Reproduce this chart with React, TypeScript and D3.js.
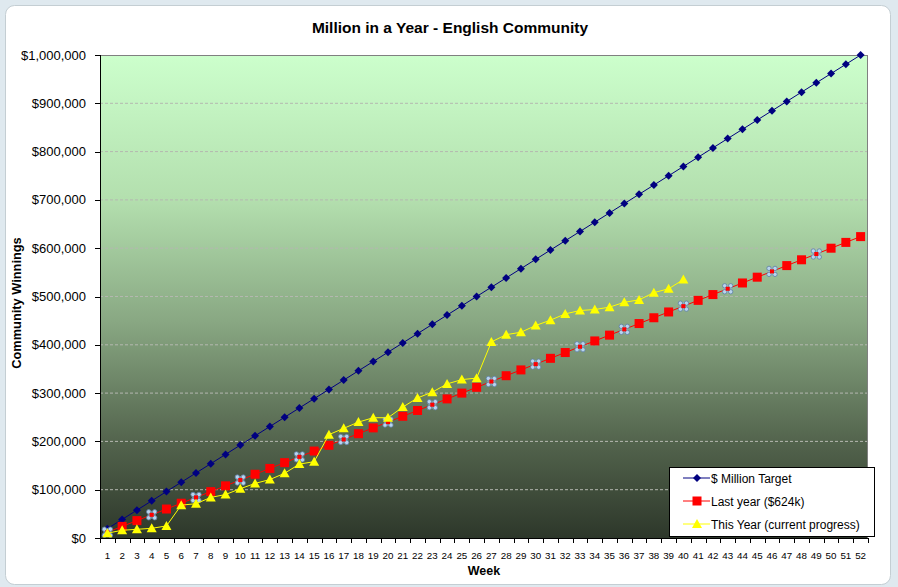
import React from "react";
import * as d3 from "d3";

const weeks = [
  1, 2, 3, 4, 5, 6, 7, 8, 9, 10, 11, 12, 13, 14, 15, 16, 17, 18, 19, 20, 21, 22, 23, 24, 25, 26,
  27, 28, 29, 30, 31, 32, 33, 34, 35, 36, 37, 38, 39, 40, 41, 42, 43, 44, 45, 46, 47, 48, 49, 50, 51, 52,
];

const target = [
  19231, 38462, 57692, 76923, 96154, 115385, 134615, 153846, 173077, 192308, 211538, 230769, 250000,
  269231, 288462, 307692, 326923, 346154, 365385, 384615, 403846, 423077, 442308, 461538, 480769, 500000,
  519231, 538462, 557692, 576923, 596154, 615385, 634615, 653846, 673077, 692308, 711538, 730769, 750000,
  769231, 788462, 807692, 826923, 846154, 865385, 884615, 903846, 923077, 942308, 961538, 980769, 1000000,
];

const lastYear = [
  12000, 24000, 36000, 48000, 60000, 72000, 84000, 96000, 108000, 120000, 132000, 144000, 156000,
  168000, 180000, 192000, 204000, 216000, 228000, 240000, 252000, 264000, 276000, 288000, 300000, 312000,
  324000, 336000, 348000, 360000, 372000, 384000, 396000, 408000, 420000, 432000, 444000, 456000, 468000,
  480000, 492000, 504000, 516000, 528000, 540000, 552000, 564000, 576000, 588000, 600000, 612000, 624000,
];

const thisYear = [
  10000, 16000, 18000, 20000, 25000, 68000, 71000, 84000, 90000, 102000, 113000, 121000, 134000,
  153000, 158000, 214000, 227000, 240000, 249000, 249000, 271000, 290000, 302000, 319000, 328000, 331000,
  406000, 421000, 426000, 440000, 451000, 464000, 471000, 473000, 478000, 488000, 493000, 508000, 516000,
  535000,
];

const highlightedWeeks = [1, 4, 7, 10, 14, 17, 20, 23, 27, 30, 33, 36, 40, 43, 46, 49];

const yTicks = [0, 100000, 200000, 300000, 400000, 500000, 600000, 700000, 800000, 900000, 1000000];

const seriesNames = ["$ Million Target", "Last year ($624k)", "This Year (current progress)"];

const W = 898;
const H = 587;
const left = 100;
const right = 868;
const top = 55;
const bottom = 538;
const FONT = "'Liberation Sans', Arial, sans-serif";

export default function App() {
  const x = d3
    .scaleBand<number>()
    .domain(weeks)
    .range([left, right])
    .paddingInner(0)
    .paddingOuter(0);
  const bw = x.bandwidth();
  const cx = (w: number) => (x(w) as number) + bw / 2;
  const y = d3.scaleLinear().domain([0, 1000000]).range([bottom, top]);
  const fmt = d3.format("$,.0f");

  const line = d3
    .line<number>()
    .x((_, i) => cx(weeks[i]))
    .y((v) => y(v));

  const diamond = (px: number, py: number, r: number) =>
    `M${px},${py - r}L${px + r},${py}L${px},${py + r}L${px - r},${py}Z`;
  const tri = (px: number, py: number, r: number) =>
    `M${px},${py - r}L${px + r},${py + r * 0.8}L${px - r},${py + r * 0.8}Z`;

  const xTickPositions = [...weeks.map((w) => x(w) as number), right];

  const legendX = 669;
  const legendY = 467;
  const legendRows = [478, 501, 524];

  return (
    <svg
      width={W}
      height={H}
      style={{ position: "absolute", left: 0, top: 0, display: "block" }}
      fontFamily={FONT}
    >
      <defs>
        <linearGradient id="bg" x1="0" y1="0" x2="0" y2="1">
          <stop offset="0" stopColor="#ccffcc" />
          <stop offset="0.3" stopColor="#b3dfae" />
          <stop offset="0.55" stopColor="#89a883" />
          <stop offset="0.8" stopColor="#53644d" />
          <stop offset="1" stopColor="#2d372a" />
        </linearGradient>
      </defs>
      <rect x={0} y={0} width={W} height={H} fill="#dfe9ef" />
      <rect x={5.5} y={5.5} width={885} height={579} rx={9} fill="#ffffff" stroke="#c4ced3" />

      <text
        x={450}
        y={33}
        textAnchor="middle"
        fontSize={15.5}
        fontWeight="bold"
        fill="#000"
      >
        Million in a Year - English Community
      </text>

      <rect x={left} y={top} width={right - left} height={bottom - top} fill="url(#bg)" />

      {yTicks
        .filter((t) => t > 0 && t < 1000000)
        .map((t) => (
          <line
            key={"g" + t}
            x1={left}
            x2={right}
            y1={y(t)}
            y2={y(t)}
            stroke="#b4b8b0"
            strokeDasharray="3,2"
            strokeWidth={1}
          />
        ))}

      <line x1={left} x2={right} y1={top + 0.5} y2={top + 0.5} stroke="#808080" />
      <line x1={right - 0.5} x2={right - 0.5} y1={top} y2={bottom} stroke="#808080" />
      <line x1={left + 0.5} x2={left + 0.5} y1={top} y2={bottom} stroke="#000" />
      <line x1={left} x2={right} y1={bottom + 0.5} y2={bottom + 0.5} stroke="#000" />

      {yTicks.map((t) => (
        <g key={"y" + t}>
          <line x1={95} x2={left} y1={Math.round(y(t)) + 0.5} y2={Math.round(y(t)) + 0.5} stroke="#000" />
          <text x={86} y={y(t) + 4.5} textAnchor="end" fontSize={13} fill="#000">
            {fmt(t)}
          </text>
        </g>
      ))}

      {xTickPositions.map((p, i) => (
        <line
          key={"xt" + i}
          x1={Math.round(p) + 0.5}
          x2={Math.round(p) + 0.5}
          y1={bottom}
          y2={bottom + 5}
          stroke="#000"
        />
      ))}
      {weeks.map((w) => (
        <text key={"xl" + w} x={cx(w)} y={559} textAnchor="middle" fontSize={9.8} fill="#000">
          {w}
        </text>
      ))}

      <text x={484} y={575} textAnchor="middle" fontSize={12.5} fontWeight="bold" fill="#000">
        Week
      </text>
      <text
        transform={`translate(21,303) rotate(-90)`}
        textAnchor="middle"
        fontSize={12.8}
        fontWeight="bold"
        fill="#000"
      >
        Community Winnings
      </text>

      {/* Target series */}
      <path d={line(target) || ""} fill="none" stroke="#000080" strokeWidth={1} />
      {target.map((v, i) => (
        <path key={"t" + i} d={diamond(cx(weeks[i]), y(v), 4)} fill="#000080" />
      ))}

      {/* Last year series */}
      <path d={line(lastYear) || ""} fill="none" stroke="#ff0000" strokeWidth={1} />
      {lastYear.map((v, i) => {
        const w = weeks[i];
        const px = cx(w);
        const py = y(v);
        if (highlightedWeeks.includes(w)) {
          return (
            <g key={"l" + i}>
              <rect x={px - 4} y={py - 4} width={8} height={8} fill="#a9c3dc" opacity={0.6} />
              {[
                [-3, -3],
                [3, -3],
                [-3, 3],
                [3, 3],
              ].map(([dx, dy], k) => (
                <circle
                  key={k}
                  cx={px + dx}
                  cy={py + dy}
                  r={2.2}
                  fill="#b8d4ee"
                  stroke="#5d7fa3"
                  strokeWidth={0.8}
                />
              ))}
              <rect x={px - 2} y={py - 2} width={4} height={4} fill="#ff0000" />
            </g>
          );
        }
        return <rect key={"l" + i} x={px - 4.5} y={py - 4.5} width={9} height={9} fill="#ff0000" />;
      })}

      {/* This year series */}
      <path d={line(thisYear) || ""} fill="none" stroke="#ffff00" strokeWidth={1} />
      {thisYear.map((v, i) => (
        <path key={"y" + i} d={tri(cx(weeks[i]), y(v), 5)} fill="#ffff00" />
      ))}

      {/* Legend */}
      <rect
        x={legendX + 0.5}
        y={legendY + 0.5}
        width={205}
        height={69}
        fill="#ffffff"
        stroke="#000"
      />
      {seriesNames.map((name, i) => {
        const ly = legendRows[i];
        const colors = ["#000080", "#ff0000", "#ffff00"];
        return (
          <g key={"lg" + i}>
            <line x1={683} x2={710} y1={ly} y2={ly} stroke={colors[i]} strokeWidth={1} />
            {i === 0 && <path d={diamond(697, ly, 4)} fill={colors[0]} />}
            {i === 1 && <rect x={692.5} y={ly - 4.5} width={9} height={9} fill={colors[1]} />}
            {i === 2 && <path d={tri(697, ly, 5)} fill={colors[2]} />}
            <text x={711} y={ly + 4.5} fontSize={12} fill="#000">
              {name}
            </text>
          </g>
        );
      })}
    </svg>
  );
}
